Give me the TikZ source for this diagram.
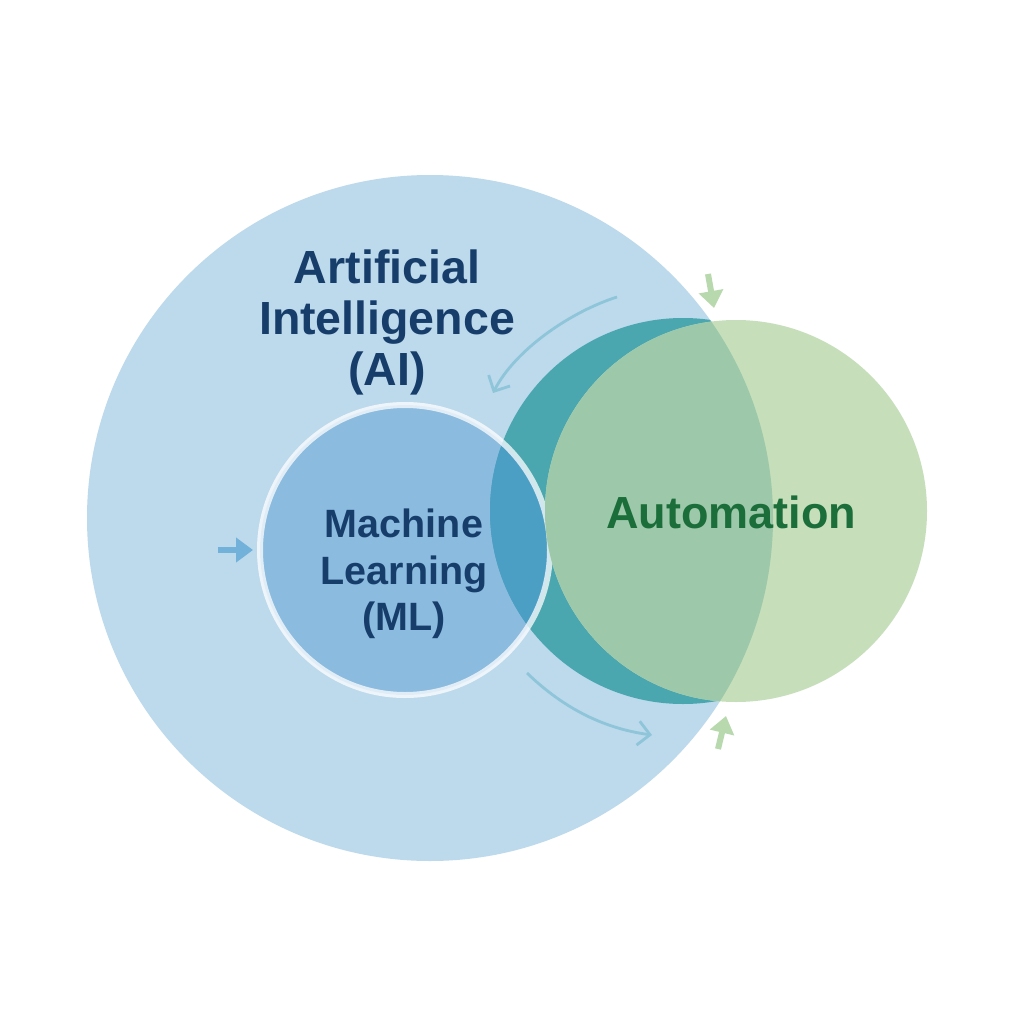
\documentclass[tikz,border=0pt]{standalone}
\usepackage{fontspec}
\setmainfont{Liberation Sans}
\usetikzlibrary{arrows.meta}
\definecolor{aiblue}{HTML}{BDD9EC}
\definecolor{mlblue}{HTML}{8BBBDE}
\definecolor{teal1}{HTML}{4AA7B0}
\definecolor{tealml}{HTML}{4C9FC4}
\definecolor{autolight}{HTML}{C6DFBA}
\definecolor{autodark}{HTML}{9DC9AA}
\definecolor{navy}{HTML}{173E6B}
\definecolor{autogreen}{HTML}{1B6E3A}
\definecolor{arrblue}{HTML}{72B2DA}
\definecolor{arrteal}{HTML}{8EC5D9}
\definecolor{arrgreen}{HTML}{B8D9AE}
\tikzset{
  lbl/.style={text=navy, align=center},
  thinarrow/.style={draw=arrteal, line width=2.8pt, -{Straight Barb[length=12pt,width=24pt,line width=2.8pt]}},
  fatarrow/.style={line width=6pt, -{Triangle[length=17pt,width=24pt]}}
}
\begin{document}
\begin{tikzpicture}[x=1pt,y=-1pt]
\useasboundingbox (0,0) rectangle (1024,1024);
\fill[white] (0,0) rectangle (1024,1024);
% AI circle
\fill[aiblue] (430,518) circle (343);
% ML circle
\fill[mlblue] (405,550) circle (145);
% teal circle clipped to AI
\begin{scope}
  \clip (430,518) circle (343);
  \fill[teal1] (683,511) circle (193);
\end{scope}
\begin{scope}
  \clip (430,518) circle (343);
  \clip (405,550) circle (145);
  \fill[tealml] (683,511) circle (193);
\end{scope}
% ML border
\draw[white, line width=6pt, draw opacity=0.75] (405,550) circle (145);
% Automation circle
\fill[autolight] (736,511) circle (191);
\begin{scope}
  \clip (430,518) circle (343);
  \fill[autodark] (736,511) circle (191);
\end{scope}
% labels
\node[lbl, font=\fontsize{46.5}{51}\selectfont\bfseries] (ai) at (387,322) {Artificial\\Intelligence\\(AI)};
\node[lbl, font=\fontsize{39.5}{46.5}\selectfont\bfseries] (ml) at (404,574) {Machine\\Learning\\(ML)};
\node[font=\fontsize{45}{50}\selectfont\bfseries, text=autogreen] (auto) at (731,512) {Automation};
% arrows
\coordinate (b1) at (218,550);
\coordinate (b2) at (253,550);
\draw[fatarrow, arrblue] (b1) -- (b2);
\coordinate (c1) at (617,297);
\coordinate (c2) at (493,393);
\draw[thinarrow] (c1) .. controls (570,312) and (515,350) .. (c2);
\coordinate (d1) at (527,673);
\coordinate (d2) at (652,735);
\draw[thinarrow] (d1) .. controls (560,705) and (600,728) .. (d2);
\coordinate (g1) at (708,274);
\coordinate (g2) at (714,308);
\draw[fatarrow, arrgreen] (g1) -- (g2);
\coordinate (h1) at (718,749);
\coordinate (h2) at (726,716);
\draw[fatarrow, arrgreen] (h1) -- (h2);
\end{tikzpicture}
\end{document}
